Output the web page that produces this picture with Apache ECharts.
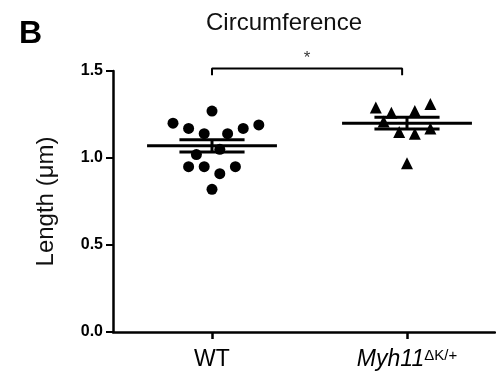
<!DOCTYPE html>
<html>
<head>
<meta charset="utf-8">
<script src="https://cdn.jsdelivr.net/npm/echarts@6.0.0/dist/echarts.min.js"></script>
<style>
  html, body { margin: 0; padding: 0; background: #fff; }
  #chart { width: 496px; height: 376px; }
</style>
</head>
<body>
<div id="chart"></div>
<script>
// groups sit at x = 1 and x = 2, points are jittered around them
var groups = ['WT', 'Myh11'];
var wtX = [1.0, 0.8, 1.24, 0.88, 1.16, 0.96, 1.08, 1.04, 0.92, 0.88, 0.96, 1.12, 1.04, 1.0];
var wtY = [1.27, 1.20, 1.19, 1.17, 1.17, 1.14, 1.14, 1.05, 1.02, 0.95, 0.95, 0.95, 0.91, 0.82];
var mutX = [1.84, 1.92, 2.04, 2.12, 1.88, 1.96, 2.04, 2.12, 2.0];
var mutY = [1.29, 1.26, 1.27, 1.31, 1.21, 1.15, 1.14, 1.17, 0.97];
var means = [1.07, 1.20];
var sems = [0.035, 0.034];
var bracketX = [1, 1.975];
var bracketY = [1.475, 1.515];

var FONT = '"Liberation Sans", Arial, sans-serif';
var black = '#000';

function zip(xs, ys) {
  return xs.map(function (x, i) { return [x, ys[i]]; });
}

function seg(x0, x1, y0, y1, w) {
  return {
    type: 'line',
    data: [[x0, y0], [x1, y1]],
    showSymbol: false,
    silent: true,
    clip: false,
    lineStyle: { color: black, width: w },
    z: 3
  };
}

var series = [
  {
    type: 'scatter',
    data: zip(wtX, wtY),
    symbol: 'circle',
    symbolSize: 11,
    itemStyle: { color: black, opacity: 1 },
    z: 4
  },
  {
    type: 'scatter',
    data: zip(mutX, mutY),
    symbol: 'triangle',
    symbolSize: 12,
    itemStyle: { color: black, opacity: 1 },
    z: 4
  }
];

// mean and SEM lines
means.forEach(function (m, i) {
  var c = i + 1;
  series.push(seg(c - 0.333, c + 0.333, m, m, 3));
  series.push(seg(c - 0.167, c + 0.167, m + sems[i], m + sems[i], 3));
  series.push(seg(c - 0.167, c + 0.167, m - sems[i], m - sems[i], 3));
  series.push(seg(c, c, m - sems[i], m + sems[i], 3));
});

// significance bracket
series.push({
  type: 'line',
  data: [[bracketX[0], bracketY[0]], [bracketX[0], bracketY[1]], [bracketX[1], bracketY[1]], [bracketX[1], bracketY[0]]],
  showSymbol: false,
  silent: true,
  clip: false,
  lineStyle: { color: black, width: 2 }
});
series.push({
  type: 'scatter',
  data: [[(bracketX[0] + bracketX[1]) / 2, bracketY[1]]],
  symbolSize: 0,
  clip: false,
  silent: true,
  label: {
    show: true,
    position: 'top',
    distance: 2,
    formatter: '*',
    color: black,
    fontSize: 17,
    fontFamily: FONT
  }
});

var option = {
  animation: false,
  backgroundColor: '#fff',
  title: [
    {
      text: 'Circumference',
      left: 201,
      top: 6,
      textStyle: { fontFamily: FONT, fontSize: 24, fontWeight: 'normal', color: '#111' }
    },
    {
      text: 'B',
      left: 14,
      top: 13,
      textStyle: { fontFamily: FONT, fontSize: 32, fontWeight: 'bold', color: black }
    }
  ],
  grid: { left: 113, right: 1, top: 71, bottom: 44 },
  xAxis: {
    type: 'value',
    min: 0.4923,
    max: 2.4513,
    splitLine: { show: false },
    axisLine: { lineStyle: { color: black, width: 2.5 } },
    axisTick: {
      customValues: [1, 2],
      length: 7,
      lineStyle: { color: black, width: 2.5 }
    },
    axisLabel: {
      customValues: [1, 2],
      margin: 16,
      formatter: function (v) {
        return v === 1 ? '{n|' + groups[0] + '}' : '{i|' + groups[1] + '}{s|ΔK/+}';
      },
      rich: {
        n: { fontFamily: FONT, fontSize: 23, color: black, lineHeight: 24 },
        i: { fontFamily: FONT, fontSize: 23, fontStyle: 'italic', color: black, lineHeight: 24 },
        s: { fontFamily: FONT, fontSize: 15, color: black, verticalAlign: 'top', lineHeight: 24, padding: [0, 0, 10, 0] }
      }
    }
  },
  yAxis: {
    type: 'value',
    min: 0,
    max: 1.5,
    interval: 0.5,
    name: 'Length (μm)',
    nameLocation: 'middle',
    nameGap: 55,
    nameTextStyle: { fontFamily: FONT, fontSize: 24, color: '#111' },
    splitLine: { show: false },
    axisLine: { show: true, lineStyle: { color: black, width: 2.5 } },
    axisTick: { show: true, length: 7, lineStyle: { color: black, width: 2 } },
    axisLabel: {
      margin: 10,
      fontFamily: FONT,
      fontSize: 16,
      fontWeight: 'bold',
      color: black,
      formatter: function (v) { return v.toFixed(1); }
    }
  },
  series: series
};

var chart = echarts.init(document.getElementById('chart'));
chart.setOption(option);
</script>
</body>
</html>
